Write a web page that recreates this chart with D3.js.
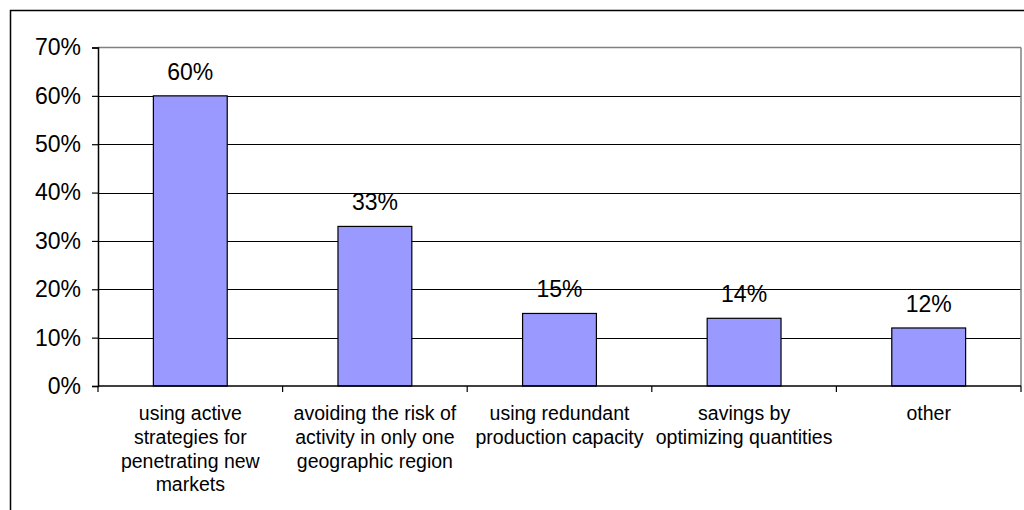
<!DOCTYPE html>
<html><head><meta charset="utf-8">
<script src="https://cdn.jsdelivr.net/npm/d3@7"></script>
<style>html,body{margin:0;padding:0;background:#fff;overflow:hidden}</style>
</head><body>
<svg id="c" width="1024" height="510"></svg>
<script>
const categories = [
  ["using active", "strategies for", "penetrating new", "markets"],
  ["avoiding the risk of", "activity in only one", "geographic region"],
  ["using redundant", "production capacity"],
  ["savings by", "optimizing quantities"],
  ["other"]
];
const values = [60, 33, 15, 14, 12];
const valueLabels = ["60%", "33%", "15%", "14%", "12%"];
const yTicks = [0, 10, 20, 30, 40, 50, 60, 70];
const yTickLabels = ["0%", "10%", "20%", "30%", "40%", "50%", "60%", "70%"];

const svg = d3.select("#c");
const font = "Liberation Sans, Arial, sans-serif";
// outer frame
svg.append("rect").attr("x", 10.5).attr("y", 10.5).attr("width", 1100).attr("height", 600)
  .attr("fill", "#fff").attr("stroke", "#000").attr("stroke-width", 1.5);

const L = 98, R = 1021, T = 47.5, B = 386;
const x = d3.scaleBand().domain(d3.range(values.length)).range([L, R]).paddingInner(0).paddingOuter(0);
const y = d3.scaleLinear().domain([0, 70]).range([B, T]);

// gridlines
svg.append("g").selectAll("line").data(yTicks.filter(d => d > 0 && d < 70)).join("line")
  .attr("x1", L).attr("x2", R).attr("y1", d => Math.round(y(d)) + 0.5).attr("y2", d => Math.round(y(d)) + 0.5)
  .attr("stroke", "#000").attr("stroke-width", 1);
// plot area border (top and right gray)
svg.append("line").attr("x1", L).attr("x2", R).attr("y1", T).attr("y2", T).attr("stroke", "#808080").attr("stroke-width", 1.5);
svg.append("line").attr("x1", R).attr("x2", R).attr("y1", T).attr("y2", B).attr("stroke", "#808080").attr("stroke-width", 1.5);

// bars
const bw = x.bandwidth() * 0.4;
svg.append("g").selectAll("rect").data(values).join("rect")
  .attr("x", (d, i) => x(i) + (x.bandwidth() - bw) / 2)
  .attr("y", d => y(d))
  .attr("width", bw)
  .attr("height", d => B - y(d))
  .attr("fill", "#9999FF").attr("stroke", "#000").attr("stroke-width", 1.2);

// value labels
svg.append("g").selectAll("text").data(values).join("text")
  .attr("x", (d, i) => x(i) + x.bandwidth() / 2)
  .attr("y", d => y(d) - 16)
  .attr("text-anchor", "middle").attr("font-family", font).attr("font-size", 23)
  .text((d, i) => valueLabels[i]);

// y axis
const yAxis = d3.axisLeft(y).tickValues(yTicks).tickFormat((d, i) => yTickLabels[i]).tickSizeOuter(0).tickSize(6).tickPadding(11);
const gy = svg.append("g").attr("transform", `translate(${L},0)`).call(yAxis);
gy.select(".domain").attr("stroke", "#000").attr("stroke-width", 1.5);
gy.selectAll(".tick line").attr("stroke", "#000").attr("stroke-width", 1.2);
gy.selectAll("text").attr("font-family", font).attr("font-size", 23).attr("fill", "#000");

// x axis
const gx = svg.append("g").attr("transform", `translate(0,${B})`);
gx.append("line").attr("x1", L).attr("x2", R).attr("y1", 0).attr("y2", 0).attr("stroke", "#000").attr("stroke-width", 1.5);
const bounds = d3.range(values.length + 1).map(i => i < values.length ? x(i) : x(values.length - 1) + x.bandwidth());
gx.selectAll("line.t").data(bounds).join("line").attr("class", "t")
  .attr("x1", d => d).attr("x2", d => d).attr("y1", 0).attr("y2", 6).attr("stroke", "#000").attr("stroke-width", 1.2);

const lab = gx.selectAll("text").data(categories).join("text")
  .attr("text-anchor", "middle").attr("font-family", font).attr("font-size", 19.5).attr("fill", "#000")
  .attr("transform", (d, i) => `translate(${x(i) + x.bandwidth() / 2},0)`);
lab.selectAll("tspan").data(d => d).join("tspan")
  .attr("x", 0).attr("y", (d, j) => 34 + j * 23.8).text(d => d);
</script>
</body></html>
